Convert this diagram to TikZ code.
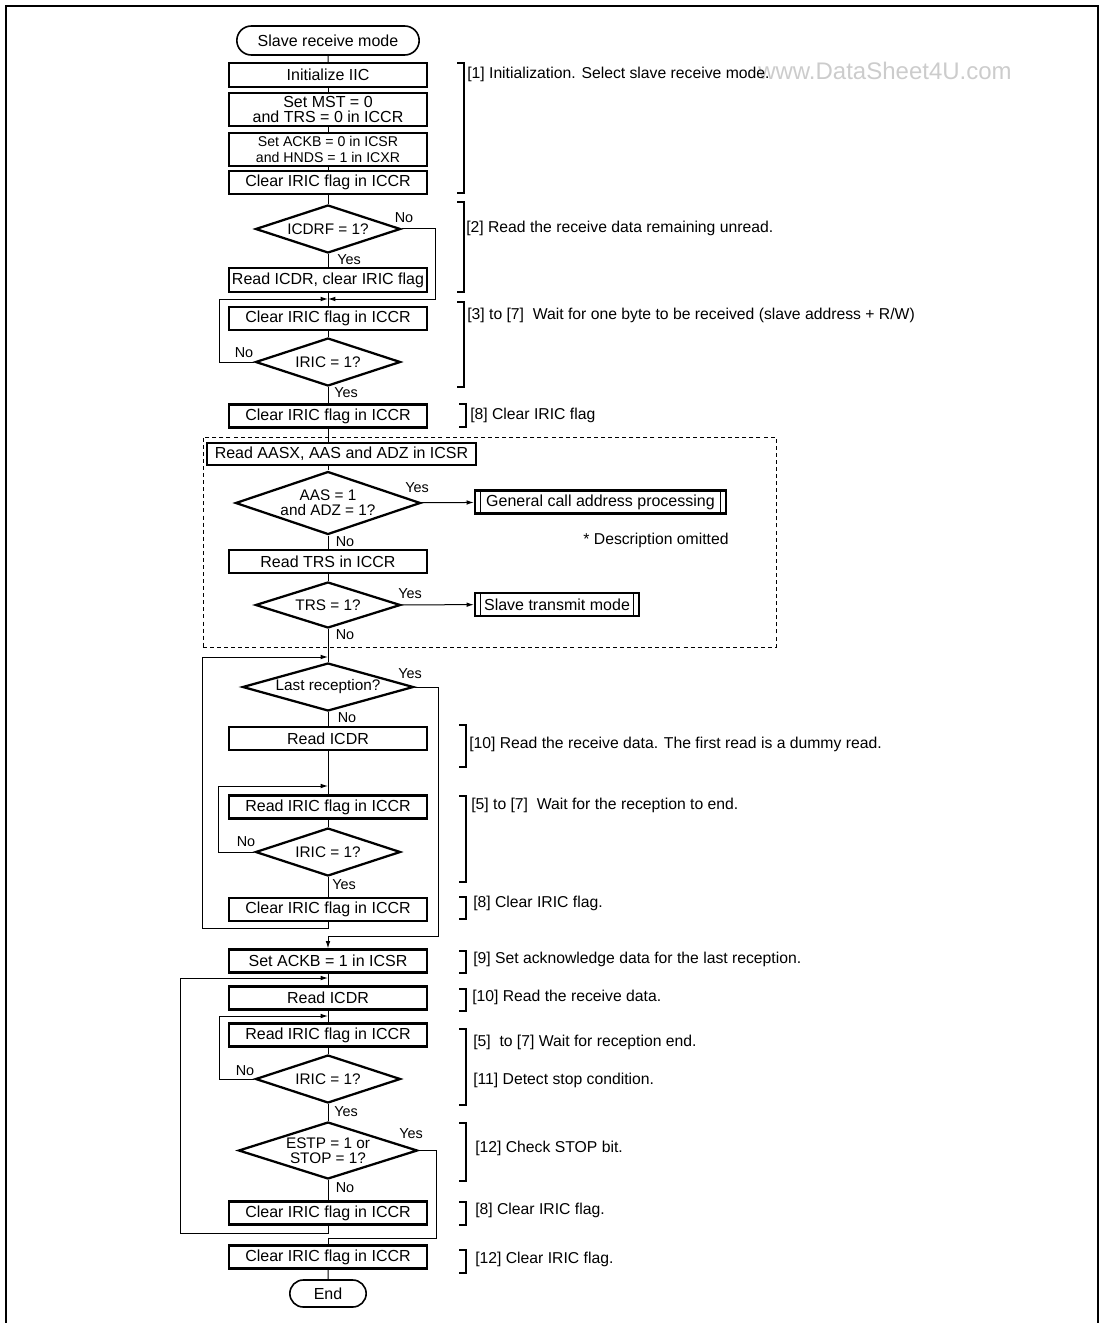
\documentclass[tikz,border=0pt]{standalone}
\usepackage{fontspec}
\setmainfont{Liberation Sans}
\usetikzlibrary{shapes.geometric,shapes.misc,arrows.meta}

\begin{document}
\begin{tikzpicture}[x=0.75pt, y=-0.75pt,
  term/.style={draw, rounded rectangle, line width=1.2pt, minimum width=138.75pt, minimum height=21.75pt, inner sep=1pt, font=\fontsize{12}{13}\selectfont},
  box/.style={draw, line width=1.7pt, minimum width=148.5pt, minimum height=17.25pt, inner sep=1pt, align=center, font=\fontsize{12}{11.3}\selectfont},
  test/.style={draw, diamond, line width=1.7pt, inner sep=0pt, minimum width=108.75pt, minimum height=36pt, aspect=3, align=center, font=\fontsize{11.5}{11.5}\selectfont},
  subproc/.style={draw, line width=1.7pt, minimum height=17.25pt, inner sep=1pt, font=\fontsize{12}{13}\selectfont,
    path picture={\draw[line width=0.7pt] ([xshift=4pt]path picture bounding box.north west) -- ([xshift=4pt]path picture bounding box.south west)
      ([xshift=-4pt]path picture bounding box.north east) -- ([xshift=-4pt]path picture bounding box.south east);}},
  group/.style={draw, line width=0.7pt, dash pattern=on 3pt off 2.3pt, minimum width=429.75pt, minimum height=157.5pt},
  lbl/.style={inner sep=0pt, font=\fontsize{10.8}{11}\selectfont},
  note/.style={anchor=west, inner sep=0pt, font=\fontsize{11.8}{13}\selectfont},
  brak/.style={line width=0.9pt},
  line/.style={line width=0.75pt},
  arrow/.style={-{Latex[length=5.5pt,width=3.5pt]}, line width=0.75pt}
]
  \useasboundingbox (0,0) rectangle (1103,1323);
  % Frame
  \draw[line width=1.7pt] (6,1323) -- (6,6) -- (1098,6) -- (1098,1323);
  \node[text=gray!40, font=\fontsize{18}{18}\selectfont] (wmark) at (885,71) {www.DataSheet4U.com};

  % Initialization
  \node[term] (start) at (328,40.5) {Slave receive mode};
  \node[box, minimum height=18pt] (init) at (328,75) {Initialize IIC};
  \node[box, minimum height=24.75pt] (setmst) at (328,109.5) {Set MST = 0\\and TRS = 0 in ICCR};
  \node[box, minimum height=24.75pt, font=\fontsize{10.6}{12}\selectfont] (setackb) at (328,149.5) {Set ACKB = 0 in ICSR\\and HNDS = 1 in ICXR};
  \node[box] (clr1) at (328,182.5) {Clear IRIC flag in ICCR};

  % Unread data, wait for address
  \node[test] (icdrf) at (328,229) {ICDRF = 1?};
  \node[box, minimum height=18pt] (rdclr) at (328,280) {Read ICDR, clear IRIC flag};
  \coordinate (j1) at (328,299);
  \node[box] (clr2) at (328,318.5) {Clear IRIC flag in ICCR};
  \node[test] (iric1) at (328,362) {IRIC = 1?};
  \node[box] (clr3) at (328,416) {Clear IRIC flag in ICCR};

  % Address check
  \node[group] (grp) at (489.5,542) {};
  \node[box, minimum width=201.75pt, minimum height=16.5pt] (rdaasx) at (341.5,454) {Read AASX, AAS and ADZ in ICSR};
  \node[test, minimum width=138.75pt, minimum height=47.25pt, aspect=2.94] (aas) at (328,503) {AAS = 1\\and ADZ = 1?};
  \node[subproc, minimum width=188.25pt] (gencall) at (600.5,502) {General call address processing};
  \node[inner sep=0pt, font=\fontsize{11.8}{13}\selectfont] (omit) at (656,540) {* Description omitted};
  \node[box] (rdtrs) at (328,561.5) {Read TRS in ICCR};
  \node[test, minimum height=34.5pt] (trs) at (328,605) {TRS = 1?};
  \node[subproc, minimum width=123pt] (slvtx) at (557,604.5) {Slave transmit mode};

  % Receive loop
  \coordinate (j2) at (328,657);
  \node[test, minimum width=128.25pt, aspect=3.56] (lastrec) at (328,687) {Last reception?};
  \node[box] (rd1) at (328,738.5) {Read ICDR};
  \coordinate (j3) at (328,786);
  \node[box] (rdiric1) at (328,807) {Read IRIC flag in ICCR};
  \node[test] (iric2) at (328,852) {IRIC = 1?};
  \node[box] (clr4) at (328,909.5) {Clear IRIC flag in ICCR};

  % Last byte
  \node[box] (ackb) at (328,961) {Set ACKB = 1 in ICSR};
  \coordinate (j4) at (328,978);
  \node[box] (rd2) at (328,998) {Read ICDR};
  \coordinate (j5) at (328,1016);
  \node[box] (rdiric2) at (328,1035) {Read IRIC flag in ICCR};
  \node[test] (iric3) at (328,1079) {IRIC = 1?};
  \node[test, minimum width=134.25pt, minimum height=42.75pt, aspect=3.14] (estp) at (328,1150.5) {ESTP = 1 or\\STOP = 1?};
  \node[box] (clr5) at (328,1213) {Clear IRIC flag in ICCR};
  \node[box] (clr6) at (328,1257) {Clear IRIC flag in ICCR};
  \node[term, minimum width=59.25pt, minimum height=20.25pt] (stop) at (328,1293.5) {End};

  % Yes / No
  \node[lbl] (no1) at (404,218) {No};
  \node[lbl] (yes1) at (349,260) {Yes};
  \node[lbl] (no2) at (244,353) {No};
  \node[lbl] (yes2) at (346,393) {Yes};
  \node[lbl] (yes3) at (417,488) {Yes};
  \node[lbl] (no3) at (345,542) {No};
  \node[lbl] (yes4) at (410,594) {Yes};
  \node[lbl] (no4) at (345,635) {No};
  \node[lbl] (yes5) at (410,674) {Yes};
  \node[lbl] (no5) at (347,718) {No};
  \node[lbl] (no6) at (246,842) {No};
  \node[lbl] (yes6) at (344,885) {Yes};
  \node[lbl] (no7) at (245,1071) {No};
  \node[lbl] (yes7) at (346,1112) {Yes};
  \node[lbl] (yes8) at (411,1134) {Yes};
  \node[lbl] (no8) at (345,1188) {No};

  % Arrows
  \draw[line] (start) -- (init);
  \draw[line] (init) -- (setmst);
  \draw[line] (setmst) -- (setackb);
  \draw[line] (setackb) -- (clr1);
  \draw[line] (clr1) -- (icdrf);
  \draw[line] (icdrf) -- (rdclr);
  \draw[line] (rdclr) -- (clr2);
  \draw[arrow] (icdrf.east) -- ++(34,0) |- (j1);
  \draw[line] (clr2) -- (iric1);
  \draw[arrow] (iric1.west) -- ++(-35,0) |- (j1);
  \draw[line] (iric1) -- (clr3);
  \draw[line] (clr3) -- (clr3 |- rdaasx.north);
  \draw[line] (aas.north |- rdaasx.south) -- (aas);
  \draw[arrow] (aas) -- (gencall);
  \draw[line] (aas) -- (rdtrs);
  \draw[line] (rdtrs) -- (trs);
  \draw[arrow] (trs) -- (slvtx);
  \draw[line] (trs) -- (lastrec);
  \draw[line] (lastrec) -- (rd1);
  \draw[line] (rd1) -- (rdiric1);
  \draw[line] (rdiric1) -- (iric2);
  \draw[line] (iric2) -- (clr4);
  \draw[arrow] (iric2.west) -- ++(-36,0) |- (j3);
  \draw[arrow] (clr4.south) -- ++(0,6) -- ++(-126,0) |- (j2);
  \draw[arrow] (lastrec.east) -- ++(24,0) -- ++(0,249) -| (ackb.north);
  \draw[line] (ackb) -- (rd2);
  \draw[line] (rd2) -- (rdiric2);
  \draw[line] (rdiric2) -- (iric3);
  \draw[arrow] (iric3.west) -- ++(-35,0) |- (j5);
  \draw[line] (iric3) -- (estp);
  \draw[line] (estp) -- (clr5);
  \draw[arrow] (clr5.south) -- ++(0,8) -- ++(-148,0) |- (j4);
  \draw[line] (estp.east) -- ++(18,0) -- ++(0,88) -| (clr6.north);
  \draw[line] (clr6) -- (stop);

  % Notes
  \draw[brak] (457,63) -- (464,63) -- (464,193) -- (457,193);
  \node[note] (n1) at (467,74) {[1] Initialization. Select slave receive mode.};
  \draw[brak] (457,202) -- (464,202) -- (464,292) -- (457,292);
  \node[note] (n2) at (466,228) {[2] Read the receive data remaining unread.};
  \draw[brak] (457,302) -- (464,302) -- (464,387) -- (457,387);
  \node[note] (n3) at (467,315) {[3] to [7]\ \ Wait for one byte to be received (slave address + R/W)};
  \draw[brak] (459,404) -- (466,404) -- (466,427) -- (459,427);
  \node[note] (n4) at (470,415) {[8] Clear IRIC flag};
  \draw[brak] (459,725) -- (466,725) -- (466,767) -- (459,767);
  \node[note] (n5) at (469,744) {[10] Read the receive data. The first read is a dummy read.};
  \draw[brak] (459,796) -- (466,796) -- (466,882) -- (459,882);
  \node[note] (n6) at (471,805) {[5] to [7]\ \ Wait for the reception to end.};
  \draw[brak] (459,897) -- (466,897) -- (466,919) -- (459,919);
  \node[note] (n7) at (473,903) {[8] Clear IRIC flag.};
  \draw[brak] (459,951) -- (466,951) -- (466,973) -- (459,973);
  \node[note] (n8) at (473,959) {[9] Set acknowledge data for the last reception.};
  \draw[brak] (459,989) -- (466,989) -- (466,1011) -- (459,1011);
  \node[note] (n9) at (472,997) {[10] Read the receive data.};
  \draw[brak] (459,1029) -- (466,1029) -- (466,1105) -- (459,1105);
  \node[note] (n10) at (473,1042) {[5]\ \ to [7] Wait for reception end.};
  \node[note] (n11) at (473,1080) {[11] Detect stop condition.};
  \draw[brak] (459,1123) -- (466,1123) -- (466,1181) -- (459,1181);
  \node[note] (n12) at (475,1148) {[12] Check STOP bit.};
  \draw[brak] (459,1202) -- (466,1202) -- (466,1225) -- (459,1225);
  \node[note] (n13) at (475,1210) {[8] Clear IRIC flag.};
  \draw[brak] (459,1250) -- (466,1250) -- (466,1273) -- (459,1273);
  \node[note] (n14) at (475,1259) {[12] Clear IRIC flag.};
\end{tikzpicture}
\end{document}
